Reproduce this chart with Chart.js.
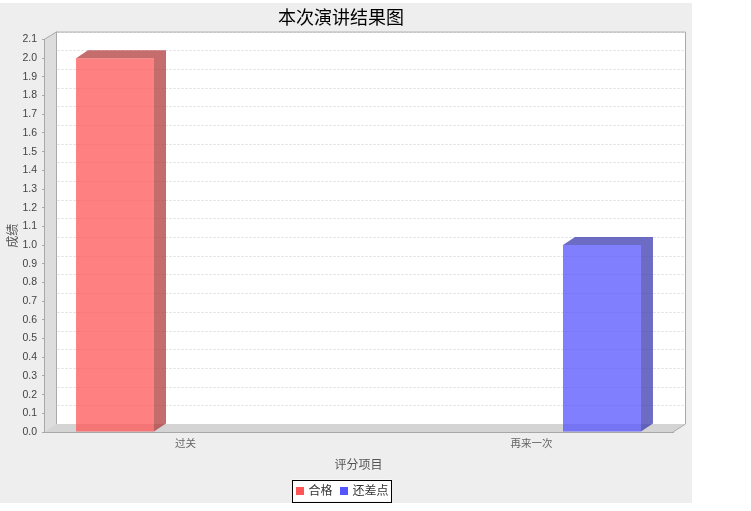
<!DOCTYPE html>
<html><head><meta charset="utf-8">
<script src="https://cdn.jsdelivr.net/npm/chart.js@4.4.1/dist/chart.umd.min.js"></script>
<style>
html,body{margin:0;padding:0;background:#fff;}
#wrap{position:absolute;left:0;top:3px;width:692px;height:500px;background:#EEEEEE;}
canvas{display:block}
</style></head><body>
<div id="wrap"><canvas id="c" width="692" height="500"></canvas></div>
<script>
// ---- data ----
const chartTitle = '本次演讲结果图';
const categories = ['过关', '再来一次'];
const seriesNames = ['合格', '还差点'];
const passValues = [2, null];
const retryValues = [null, 1];
const yTickValues = [0.0,0.1,0.2,0.3,0.4,0.5,0.6,0.7,0.8,0.9,1.0,1.1,1.2,1.3,1.4,1.5,1.6,1.7,1.8,1.9,2.0,2.1];
const xAxisTitle = '评分项目';
const yAxisTitle = '成绩';

// ---- styles ----
const frontColors = ['rgba(255,85,85,0.75)', 'rgba(85,85,255,0.75)'];
const sideColors = ['rgba(178,59,59,0.75)', 'rgba(59,59,178,0.75)'];
const legendColors = ['#FF5555', '#5555FF'];
const DX = 12, DY = 8;
const CJK = '"Noto Sans CJK SC", "Noto Sans", sans-serif';
const LAT = '"Liberation Sans", "DejaVu Sans", sans-serif';

function poly(ctx, pts) {
  ctx.beginPath();
  ctx.moveTo(pts[0][0], pts[0][1]);
  for (let i = 1; i < pts.length; i++) ctx.lineTo(pts[i][0], pts[i][1]);
  ctx.closePath();
}

const wallsPlugin = {
  id: 'walls3d',
  beforeDraw(chart) {
    const {ctx, chartArea: {left: L, right: R, top: T, bottom: B}, scales: {y}} = chart;
    ctx.save();
    ctx.fillStyle = '#FFFFFF';
    ctx.fillRect(L + DX, T - DY, R - L, B - T);
    ctx.fillStyle = '#DDDDDD';
    poly(ctx, [[L, B], [L + DX, B - DY], [L + DX, T - DY], [L, T]]);
    ctx.fill();
    ctx.fillStyle = '#D4D4D4';
    poly(ctx, [[L, B], [R, B], [R + DX, B - DY], [L + DX, B - DY]]);
    ctx.fill();
    ctx.strokeStyle = '#DCDCDC';
    ctx.lineWidth = 1;
    ctx.setLineDash([2, 2]);
    y.ticks.forEach(t => {
      if (t.value === 0) return;
      const yy = Math.round(y.getPixelForValue(t.value)) + 0.5;
      ctx.beginPath();
      ctx.moveTo(L, yy);
      ctx.lineTo(L + DX, yy - DY);
      ctx.lineTo(R + DX, yy - DY);
      ctx.stroke();
    });
    ctx.setLineDash([]);
    ctx.strokeStyle = '#AAAAAA';
    ctx.lineWidth = 1;
    ctx.beginPath();
    ctx.moveTo(L, T);
    ctx.lineTo(L + DX + 0.5, T - DY + 0.5);
    ctx.lineTo(R + DX + 0.5, T - DY + 0.5);
    ctx.lineTo(R + DX + 0.5, B - DY);
    ctx.lineTo(R, B);
    ctx.stroke();
    ctx.beginPath();
    ctx.moveTo(L + DX + 0.5, T - DY);
    ctx.lineTo(L + DX + 0.5, B - DY);
    ctx.stroke();
    ctx.restore();
  },
  afterDatasetsDraw(chart) {
    const ctx = chart.ctx;
    ctx.save();
    chart.data.datasets.forEach((ds, di) => {
      const meta = chart.getDatasetMeta(di);
      meta.data.forEach((bar, i) => {
        const v = ds.data[i].y;
        if (v === null || v === undefined) return;
        const {x, y: top, base, width} = bar.getProps(['x', 'y', 'base', 'width'], true);
        const l = x - width / 2, r = x + width / 2;
        ctx.fillStyle = sideColors[di];
        poly(ctx, [[l, top], [l + DX, top - DY], [r + DX, top - DY], [r + DX, base - DY], [r, base], [r, top]]);
        ctx.fill();
      });
    });
    ctx.restore();
  },
  afterDraw(chart) {
    const ctx = chart.ctx;
    ctx.save();
    ctx.font = '12px ' + CJK;
    const box = 8, gapText = 5, gapItem = 7, padL = 3, padR = 3;
    const items = chart.data.datasets.map((ds, i) => ({text: ds.label, color: legendColors[i], w: ctx.measureText(ds.label).width}));
    let total = padL + padR;
    items.forEach((it, i) => { total += box + gapText + it.w + (i ? gapItem : 0); });
    const tb = chart.titleBlock;
    const cx = tb.left + tb.width / 2 + 1;
    const h = 22;
    const top = chart.height - h - 1.5;
    const left = Math.round(cx - total / 2) + 0.5;
    ctx.fillStyle = '#FFFFFF';
    ctx.fillRect(left, top, total, h);
    ctx.strokeStyle = '#000000';
    ctx.lineWidth = 1;
    ctx.strokeRect(left, Math.round(top) + 0.5, Math.round(total), h);
    let x = left + padL;
    const cy = top + h / 2;
    ctx.textBaseline = 'middle';
    items.forEach((it, i) => {
      if (i) x += gapItem;
      ctx.fillStyle = it.color;
      ctx.fillRect(Math.round(x), Math.round(cy - box / 2), box, box);
      x += box + gapText;
      ctx.fillStyle = '#333333';
      ctx.fillText(it.text, x, cy);
      x += it.w;
    });
    ctx.restore();
  }
};

const xMin = -0.409, xMax = 1.409;

new Chart(document.getElementById('c'), {
  type: 'bar',
  data: {
    datasets: [
      {label: seriesNames[0], data: passValues.map((v, i) => ({x: i, y: v})), backgroundColor: frontColors[0], borderWidth: 0},
      {label: seriesNames[1], data: retryValues.map((v, i) => ({x: i, y: v})), backgroundColor: frontColors[1], borderWidth: 0}
    ]
  },
  options: {
    responsive: false,
    animation: false,
    devicePixelRatio: 1,
    categoryPercentage: 0.815,
    barPercentage: 0.553,
    layout: {padding: {left: 0, right: 10, top: 0, bottom: 0}},
    plugins: {
      legend: {display: false},
      tooltip: {enabled: false},
      title: {
        display: true, text: chartTitle, color: '#000000',
        font: {family: CJK, size: 18, weight: 'normal', lineHeight: 1.2},
        padding: {top: 3.7, bottom: 11.2}
      }
    },
    scales: {
      x: {
        type: 'linear', position: 'bottom', min: xMin, max: xMax, offset: false,
        afterBuildTicks(s) { s.ticks = categories.map((c, i) => ({value: i})); },
        afterFit(s) { s.height = 71; },
        grid: {display: false, drawTicks: false, offset: false},
        border: {display: true, color: '#A8A8A8'},
        ticks: {
          autoSkip: false, maxRotation: 0, padding: 5, color: '#666666',
          font: {family: CJK, size: 10.5},
          callback: (v) => categories[v]
        },
        title: {display: true, text: xAxisTitle, color: '#555555', font: {family: CJK, size: 12, lineHeight: 1.2}, padding: {top: 4, bottom: 31.8}}
      },
      y: {
        type: 'linear', position: 'left', min: 0, max: 2.1,
        afterBuildTicks(s) { s.ticks = yTickValues.map(v => ({value: v})); },
        afterFit(s) { s.width = 44; },
        grid: {display: true, drawOnChartArea: false, drawTicks: true, tickLength: 2, color: '#A8A8A8'},
        border: {display: true, color: '#A8A8A8'},
        ticks: {autoSkip: false, padding: 5, color: '#444444', font: {family: LAT, size: 10.5}, callback: (v) => Number(v).toFixed(1)},
        title: {display: true, text: yAxisTitle, color: '#555555', font: {family: CJK, size: 12, lineHeight: 1.2}, padding: {top: 5, bottom: 0}}
      },
      yR: {
        type: 'linear', position: 'right', display: true,
        grid: {display: false, drawTicks: false}, border: {display: false},
        ticks: {display: false},
        afterFit(s) { s.width = 9; }
      }
    }
  },
  plugins: [wallsPlugin]
});
</script>
</body></html>
